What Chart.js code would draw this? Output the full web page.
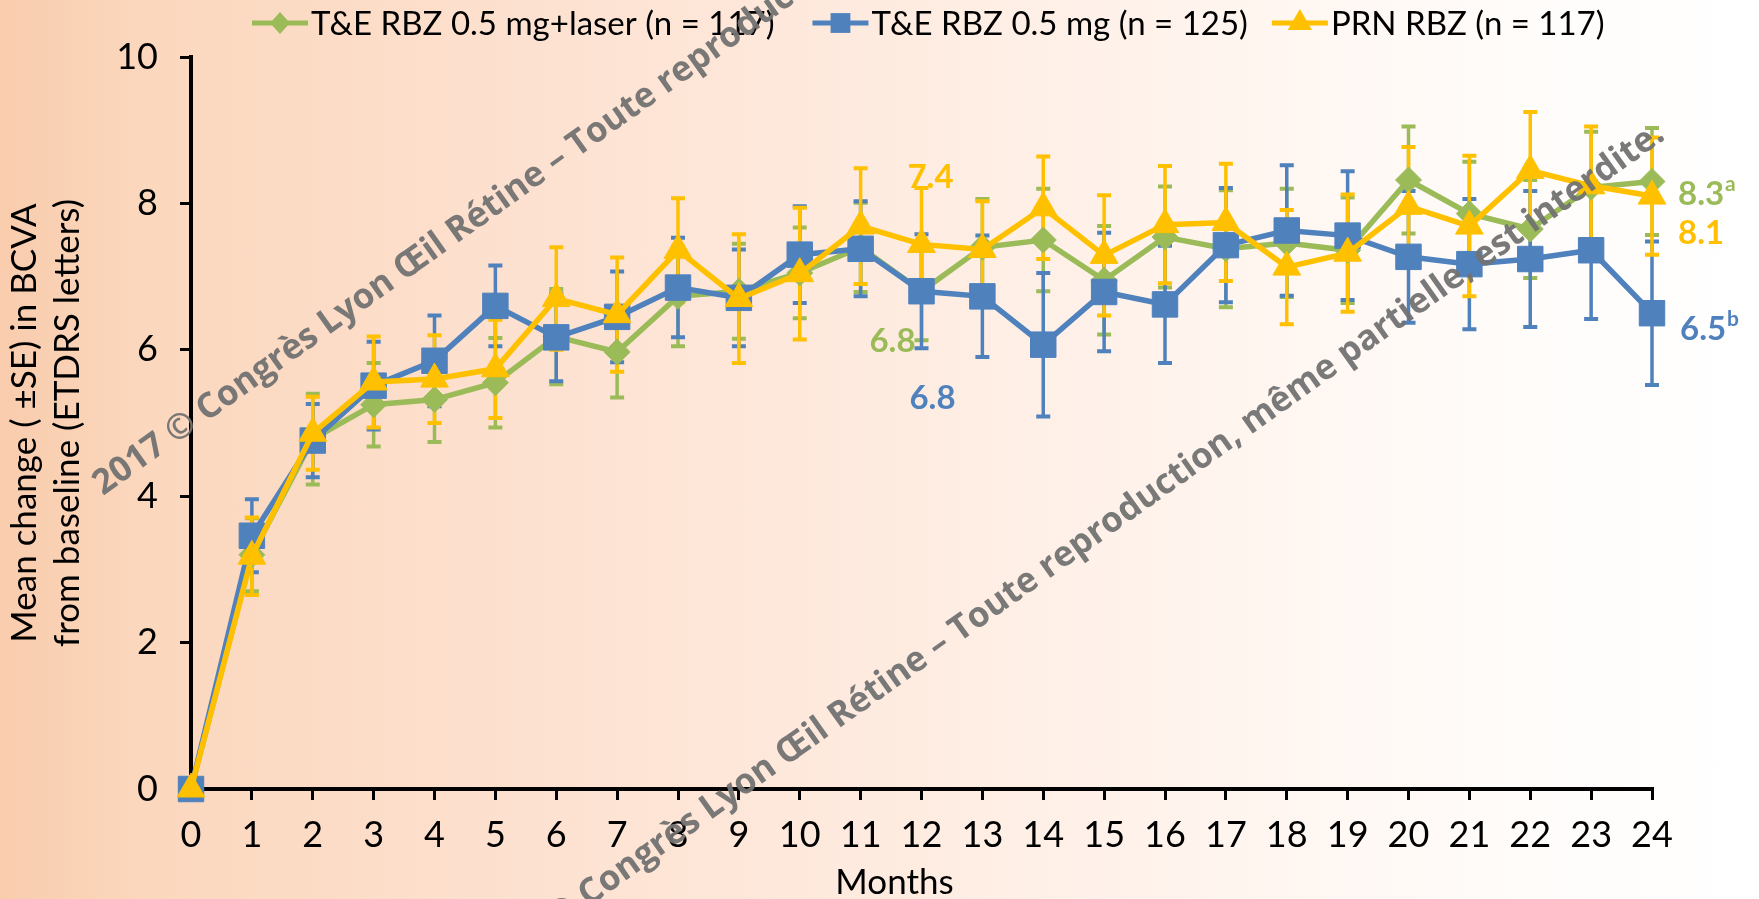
<!DOCTYPE html>
<html>
<head>
<meta charset="utf-8">
<title>Mean change in BCVA</title>
<script src="https://cdn.jsdelivr.net/npm/chart.js@4.4.1/dist/chart.umd.min.js"></script>
<style>
	html, body { margin:0; padding:0; }
	body { width:1759px; height:899px; overflow:hidden; }
	#bcva_wrap { position:relative; width:1759px; height:899px; overflow:hidden;
		background:linear-gradient(to right, rgb(249,204,173) 0%, rgb(251,215,189) 8%, rgb(253,225,208) 30%, rgb(254,234,222) 48%, rgb(255,245,239) 70%, rgb(255,252,250) 86%, #ffffff 100%); }
	#bcva_chart { position:absolute; left:0; top:0; }
	.bcva_wm { position:absolute; white-space:nowrap; font-family:'Open Sans', sans-serif; font-weight:700;
		color:rgba(114,114,114,0.95); line-height:1; transform-origin:0 0; }
</style>
</head>
<body>
<div id="bcva_wrap">
	<canvas id="bcva_chart" width="1759" height="899"></canvas>
	<div class="bcva_wm" id="bcva_wm1">2017 © Congrès Lyon Œil Rétine – Toute reproduction, même partielle, est interdite.</div>
	<div class="bcva_wm" id="bcva_wm2">2017 © Congrès Lyon Œil Rétine – Toute reproduction, même partielle, est interdite.</div>
</div>
<script>
var bcva_months = [0, 1, 2, 3, 4, 5, 6, 7, 8, 9, 10, 11, 12, 13, 14, 15, 16, 17, 18, 19, 20, 21, 22, 23, 24];

var bcva_series_names = ['T&E RBZ 0.5 mg+laser (n = 117)', 'T&E RBZ 0.5 mg (n = 125)', 'PRN RBZ (n = 117)'];
var bcva_x_title = 'Months';
var bcva_y_title = ['Mean change ( \u00B1SE) in BCVA', 'from baseline (ETDRS letters)'];

var bcva_laser_mean = [0, 3.2, 4.78, 5.25, 5.32, 5.55, 6.18, 5.97, 6.73, 6.8, 7.05, 7.4, 6.8, 7.4, 7.5, 6.95, 7.54, 7.38, 7.46, 7.36, 8.32, 7.86, 7.65, 8.22, 8.3];
var bcva_laser_se   = [0, 0.5, 0.62, 0.57, 0.58, 0.61, 0.65, 0.62, 0.68, 0.65, 0.62, 0.61, 0.67, 0.66, 0.7, 0.74, 0.69, 0.8, 0.74, 0.72, 0.73, 0.71, 0.67, 0.76, 0.73];

var bcva_te_mean = [0, 3.46, 4.76, 5.51, 5.85, 6.6, 6.17, 6.45, 6.85, 6.71, 7.3, 7.38, 6.8, 6.73, 6.07, 6.79, 6.62, 7.43, 7.63, 7.56, 7.27, 7.17, 7.24, 7.36, 6.5];
var bcva_te_se   = [0, 0.5, 0.5, 0.6, 0.62, 0.55, 0.6, 0.62, 0.68, 0.66, 0.66, 0.65, 0.78, 0.83, 0.98, 0.81, 0.8, 0.78, 0.89, 0.88, 0.9, 0.89, 0.93, 0.94, 0.98];

var bcva_prn_mean = [0, 3.18, 4.86, 5.56, 5.6, 5.74, 6.7, 6.48, 7.36, 6.7, 7.04, 7.69, 7.44, 7.37, 7.94, 7.29, 7.71, 7.74, 7.13, 7.32, 7.96, 7.69, 8.45, 8.24, 8.1];
var bcva_prn_se   = [0, 0.53, 0.5, 0.62, 0.6, 0.67, 0.7, 0.78, 0.71, 0.88, 0.9, 0.79, 0.77, 0.66, 0.7, 0.82, 0.8, 0.8, 0.78, 0.8, 0.81, 0.96, 0.8, 0.81, 0.8];

//callouts: text, superscript, series index, month
var bcva_callout_text   = ['7.4', '6.8', '6.8', '8.3', '8.1', '6.5'];
var bcva_callout_sup    = ['', '', '', 'a', '', 'b'];
var bcva_callout_series = [2, 0, 1, 0, 2, 1];
var bcva_callout_month  = [12, 12, 12, 24, 24, 24];

var bcva_colors = ['#9BBB59', '#4F81BD', '#FFC000'];
var bcva_shapes = ['rectRot', 'rect', 'triangle'];
var bcva_font = "Lato, 'Open Sans', sans-serif";

function bcva_points(means)
{
	var pts = [];
	for (var i = 0; i < bcva_months.length; i++)
		pts.push({x: bcva_months[i], y: means[i]});
	return pts;
}

//own marker drawing for the legend icons
function bcva_marker(ctx, shape, x, y, r, color)
{
	ctx.save();
	ctx.fillStyle = color;
	ctx.beginPath();
	if (shape == 'rect')
	{
		var s = Math.SQRT1_2 * r;
		ctx.rect(x - s, y - s, 2 * s, 2 * s);
	}
	else if (shape == 'rectRot')
	{
		ctx.moveTo(x, y - r);
		ctx.lineTo(x + r * 0.9, y);
		ctx.lineTo(x, y + r);
		ctx.lineTo(x - r * 0.9, y);
		ctx.closePath();
	}
	else
	{
		ctx.moveTo(x, y - r);
		ctx.lineTo(x + r * 0.866, y + r * 0.5);
		ctx.lineTo(x - r * 0.866, y + r * 0.5);
		ctx.closePath();
	}
	ctx.fill();
	ctx.restore();
}

var bcva_errorbars = {
	id: 'bcva_errorbars',
	beforeDatasetsDraw: function(chart)
	{
		var ctx = chart.ctx;
		var xs = chart.scales.x, ys = chart.scales.y;
		chart.data.datasets.forEach(function(ds, di)
		{
			if (!chart.isDatasetVisible(di)) return;
			ctx.save();
			ctx.strokeStyle = ds.borderColor;
			for (var i = 0; i < ds.data.length; i++)
			{
				var se = ds.errors[i];
				if (!se) continue;
				var x = xs.getPixelForValue(ds.data[i].x);
				var yt = ys.getPixelForValue(ds.data[i].y + se);
				var yb = ys.getPixelForValue(ds.data[i].y - se);
				ctx.lineWidth = 3.5;
				ctx.beginPath();
				ctx.moveTo(x, yt);
				ctx.lineTo(x, yb);
				ctx.stroke();
				ctx.lineWidth = 4;
				ctx.beginPath();
				ctx.moveTo(x - 7, yt); ctx.lineTo(x + 7, yt);
				ctx.moveTo(x - 7, yb); ctx.lineTo(x + 7, yb);
				ctx.stroke();
			}
			ctx.restore();
		});
	}
};

var bcva_callouts = {
	id: 'bcva_callouts',
	afterDatasetsDraw: function(chart)
	{
		var ctx = chart.ctx;
		var xs = chart.scales.x, ys = chart.scales.y;
		//pixel offsets from the data point, per callout
		var dx = [9, -29, 11, 26, 26, 28];
		var dy = [-67, 50, 107, 13, 37, 16];
		ctx.save();
		ctx.textBaseline = 'middle';
		for (var i = 0; i < bcva_callout_text.length; i++)
		{
			var ds = chart.data.datasets[bcva_callout_series[i]];
			var m = bcva_callout_month[i];
			var x = xs.getPixelForValue(m) + dx[i];
			var y = ys.getPixelForValue(ds.data[m].y) + dy[i];
			ctx.fillStyle = ds.borderColor;
			ctx.font = 'bold 33px ' + bcva_font;
			if (m == 24)
			{
				ctx.textAlign = 'left';
				ctx.fillText(bcva_callout_text[i], x, y);
				if (bcva_callout_sup[i])
				{
					var w = ctx.measureText(bcva_callout_text[i]).width;
					ctx.font = 'bold 21px ' + bcva_font;
					ctx.fillText(bcva_callout_sup[i], x + w + 1, y - 10);
				}
			}
			else
			{
				ctx.textAlign = 'center';
				ctx.fillText(bcva_callout_text[i], x, y);
			}
		}
		ctx.restore();
	}
};

//legend and x axis title, drawn by hand
var bcva_legend = {
	id: 'bcva_legend',
	afterDraw: function(chart)
	{
		var ctx = chart.ctx;
		var x = 252, y = 23;
		var radii = [11, 14, 14];
		var gaps = [38, 24, 0];
		ctx.save();
		ctx.font = '33px ' + bcva_font;
		ctx.textBaseline = 'middle';
		ctx.textAlign = 'left';
		chart.data.datasets.forEach(function(ds, di)
		{
			ctx.strokeStyle = ds.borderColor;
			ctx.lineWidth = 5;
			ctx.beginPath();
			ctx.moveTo(x, y);
			ctx.lineTo(x + 56, y);
			ctx.stroke();
			bcva_marker(ctx, bcva_shapes[di], x + 28, y, radii[di], ds.borderColor);
			ctx.fillStyle = '#000';
			ctx.fillText(ds.label, x + 59, y + 1);
			x += 59 + ctx.measureText(ds.label).width + gaps[di];
		});
		ctx.font = '35px ' + bcva_font;
		ctx.textAlign = 'center';
		ctx.fillText(bcva_x_title, (chart.chartArea.left + chart.chartArea.right) / 2 - 27, 883);
		ctx.restore();
	}
};

function bcva_dataset(di, means, errs, radius, order)
{
	return {
		label: bcva_series_names[di],
		data: bcva_points(means),
		errors: errs,
		borderColor: bcva_colors[di],
		backgroundColor: bcva_colors[di],
		borderWidth: 5.5,
		tension: 0,
		pointStyle: bcva_shapes[di],
		pointRadius: radius,
		pointHoverRadius: radius,
		pointBorderWidth: 1,
		pointBackgroundColor: bcva_colors[di],
		pointBorderColor: bcva_colors[di],
		clip: false,
		order: order
	};
}

var bcva_ctx = document.getElementById('bcva_chart').getContext('2d');
var bcva_chart = new Chart(bcva_ctx, {
	type: 'line',
	data: {
		datasets: [
			bcva_dataset(0, bcva_laser_mean, bcva_laser_se, 13, 3),
			bcva_dataset(1, bcva_te_mean, bcva_te_se, 18, 2),
			bcva_dataset(2, bcva_prn_mean, bcva_prn_se, 16, 1)
		]
	},
	options: {
		responsive: false,
		animation: false,
		devicePixelRatio: 1,
		layout: { padding: { top: 57, right: 107, left: 0, bottom: 0 } },
		plugins: {
			legend: { display: false },
			tooltip: { enabled: false }
		},
		scales: {
			x: {
				type: 'linear',
				min: 0,
				max: 24,
				afterFit: function(scale) { scale.height = 110; },
				ticks: { stepSize: 1, autoSkip: false, maxRotation: 0, color: '#000', padding: 14, font: { family: bcva_font, size: 36 } },
				grid: { display: true, drawOnChartArea: false, drawTicks: true, tickLength: 11, lineWidth: 3, color: '#000' },
				border: { display: true, width: 4, color: '#000' }
			},
			y: {
				min: 0,
				max: 10,
				afterFit: function(scale) { scale.width = 191; },
				ticks: { stepSize: 2, color: '#000', padding: 22, font: { family: bcva_font, size: 36 } },
				grid: { display: true, drawOnChartArea: false, drawTicks: true, tickLength: 11, lineWidth: 3, color: '#000' },
				border: { display: true, width: 4, color: '#000' },
				title: {
					display: true,
					text: bcva_y_title,
					color: '#000',
					padding: { top: 3, bottom: 0 },
					font: { family: bcva_font, size: 35, lineHeight: 1.23 }
				}
			}
		}
	},
	plugins: [bcva_errorbars, bcva_callouts, bcva_legend]
});

//Watermarks
function bcva_place_watermark(id, x, y, len, angle)
{
	var el = document.getElementById(id);
	var c = document.createElement('canvas').getContext('2d');
	c.font = "700 100px 'Open Sans'";
	var size = 100 * len / c.measureText(el.textContent).width;
	el.style.fontSize = size.toFixed(1) + 'px';
	el.style.left = x + 'px';
	el.style.top = y + 'px';
	el.style.transform = 'rotate(' + angle + 'deg) translateY(-0.86em)';
}
bcva_place_watermark('bcva_wm1', 103, 496, 1450, -35.5);
bcva_place_watermark('bcva_wm2', 485, 981, 1450, -35.5);
</script>
</body>
</html>
